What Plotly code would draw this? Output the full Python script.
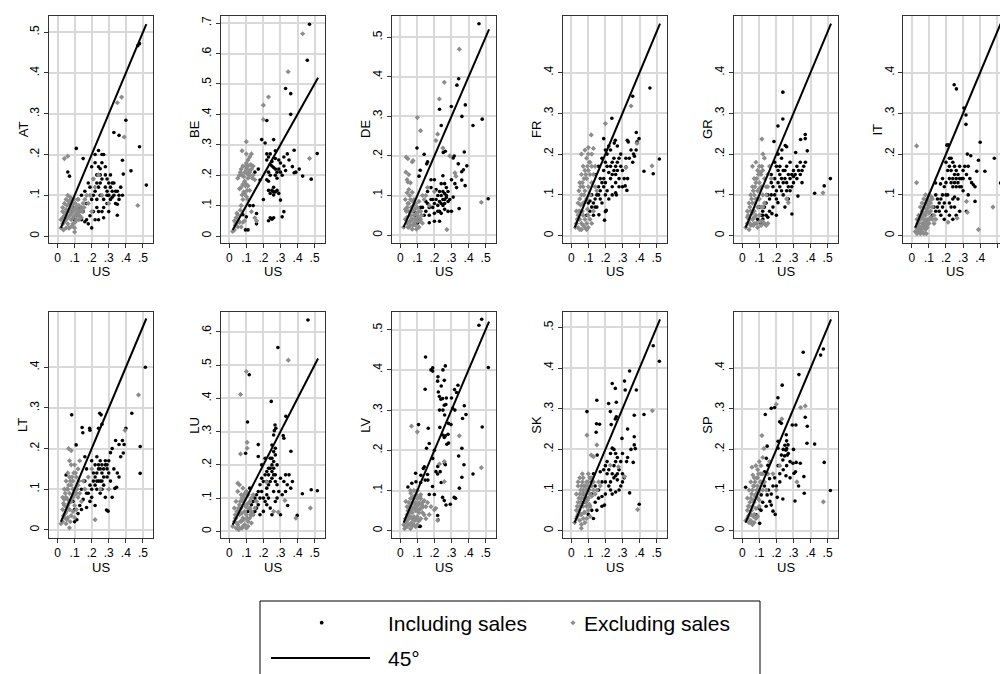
import plotly.graph_objects as go

# ---------------- data ----------------
countries = ["AT", "BE", "DE", "FR", "GR", "IT", "LT", "LU", "LV", "SK", "SP"]
x_tickvals = [0, 0.1, 0.2, 0.3, 0.4, 0.5]
x_ticktext = ["0", ".1", ".2", ".3", ".4", ".5"]
y_top_tick = [0.5, 0.7, 0.5, 0.4, 0.4, 0.4, 0.4, 0.6, 0.5, 0.5, 0.4]
diag_45 = [0.02, 0.52]
x_title = "US"
legend_labels = ["Including sales", "Excluding sales", "45°"]

AT_inc = [(0.47,0.467),(0.48,0.472),(0.40,0.284),(0.33,0.254),(0.36,0.247),(0.48,0.219),(0.11,0.215),(0.24,0.21),(0.43,0.16),(0.38,0.186),(0.52,0.125),(0.385,0.152),(0.35,0.078),(0.35,0.051),(0.06,0.157),(0.07,0.147),(0.15,0.19),(0.20,0.17),(0.22,0.18),(0.23,0.15),(0.25,0.165),(0.26,0.14),(0.28,0.15),(0.30,0.13),(0.31,0.12),(0.32,0.11),(0.33,0.1),(0.34,0.11),(0.36,0.10),(0.37,0.12),(0.24,0.12),(0.22,0.11),(0.21,0.1),(0.25,0.1),(0.27,0.09),(0.29,0.08),(0.31,0.09),(0.23,0.07),(0.26,0.06),(0.24,0.04),(0.27,0.045),(0.30,0.06),(0.19,0.05),(0.17,0.04),(0.15,0.06),(0.13,0.07),(0.12,0.09),(0.16,0.11),(0.18,0.13),(0.20,0.09),(0.27,0.2),(0.26,0.18),(0.28,0.17),(0.29,0.11),(0.20,0.02),(0.16,0.035),(0.11,0.05),(0.14,0.1),(0.09,0.07),(0.32,0.095),(0.35,0.11),(0.29,0.14),(0.23,0.13),(0.25,0.15),(0.21,0.06),(0.10,0.04),(0.08,0.06),
          (0.21,0.14),(0.22,0.2),(0.24,0.17),(0.26,0.2),(0.28,0.12),(0.3,0.1),(0.31,0.15),(0.33,0.13),(0.34,0.08),(0.36,0.09),(0.38,0.1),(0.27,0.07),(0.25,0.13),(0.23,0.09),(0.19,0.12),(0.17,0.08),(0.14,0.04),(0.18,0.03),(0.22,0.04),(0.29,0.1),(0.32,0.13),(0.24,0.06)]
AT_exc = [(0.04,0.19),(0.06,0.196),(0.35,0.327),(0.375,0.341),(0.39,0.243),(0.47,0.075),(0.03,0.03),(0.04,0.05),(0.05,0.04),(0.06,0.06),(0.07,0.05),(0.08,0.07),(0.09,0.06),(0.10,0.05),(0.11,0.07),(0.12,0.06),(0.02,0.02),(0.03,0.06),(0.04,0.08),(0.05,0.09),(0.06,0.1),(0.07,0.08),(0.08,0.04),(0.09,0.03),(0.10,0.02),(0.10,0.01),(0.11,0.04),(0.12,0.05),(0.13,0.06),(0.14,0.07),(0.15,0.08),(0.13,0.05),(0.05,0.02),(0.06,0.03),(0.07,0.02),(0.08,0.09),(0.09,0.08),(0.12,0.09),(0.16,0.09),(0.18,0.08),(0.20,0.06),(0.22,0.12),(0.26,0.1),(0.30,0.08),(0.24,0.15),(0.19,0.1),(0.03,0.07),(0.04,0.035),(0.05,0.065),(0.06,0.045),(0.07,0.065),(0.08,0.055),(0.09,0.045),(0.11,0.055),(0.1,0.065),(0.14,0.045),(0.02,0.04),
          (0.03,0.045),(0.045,0.055),(0.055,0.075),(0.065,0.085),(0.075,0.06),(0.085,0.075),(0.095,0.065),(0.105,0.08),(0.115,0.065),(0.125,0.075),(0.135,0.065),(0.145,0.06),(0.155,0.07),(0.065,0.02),(0.085,0.025),(0.105,0.035),(0.125,0.04),(0.035,0.015),(0.095,0.09),(0.075,0.095),(0.17,0.1),(0.21,0.14)]

BE_inc = [(0.47,0.696),(0.457,0.578),(0.33,0.485),(0.36,0.468),(0.36,0.40),(0.22,0.38),(0.19,0.317),(0.21,0.306),(0.26,0.317),(0.38,0.282),(0.34,0.27),(0.515,0.271),(0.43,0.197),(0.48,0.187),(0.37,0.228),(0.38,0.208),(0.23,0.26),(0.24,0.27),(0.22,0.25),(0.25,0.23),(0.26,0.225),(0.27,0.22),(0.24,0.2),(0.28,0.21),(0.22,0.185),(0.23,0.18),(0.26,0.16),(0.25,0.15),(0.27,0.145),(0.28,0.15),(0.29,0.14),(0.23,0.15),(0.26,0.135),(0.30,0.24),(0.32,0.23),(0.31,0.20),(0.33,0.215),(0.24,0.06),(0.23,0.05),(0.25,0.055),(0.26,0.06),(0.32,0.08),(0.31,0.063),(0.30,0.118),(0.18,0.184),(0.14,0.1),(0.16,0.074),(0.10,0.063),(0.095,0.02),(0.16,0.04),(0.11,0.02),(0.08,0.07),(0.15,0.21),(0.17,0.22),(0.27,0.28),(0.29,0.25),
          (0.25,0.245),(0.27,0.255),(0.24,0.235),(0.23,0.21),(0.29,0.22),(0.3,0.21),(0.28,0.19),(0.27,0.2),(0.26,0.145),(0.24,0.14),(0.22,0.27),(0.32,0.26),(0.35,0.25),(0.39,0.21),(0.41,0.22),(0.2,0.12),(0.12,0.1)]
BE_exc = [(0.43,0.665),(0.345,0.54),(0.23,0.457),(0.2,0.43),(0.2,0.383),(0.1,0.31),(0.075,0.28),(0.47,0.255),(0.06,0.2),(0.07,0.22),(0.08,0.23),(0.09,0.21),(0.1,0.22),(0.11,0.23),(0.12,0.21),(0.1,0.24),(0.11,0.25),(0.12,0.2),(0.13,0.22),(0.14,0.2),(0.09,0.18),(0.08,0.17),(0.1,0.17),(0.11,0.19),(0.12,0.15),(0.09,0.14),(0.1,0.13),(0.11,0.12),(0.08,0.12),(0.07,0.16),(0.06,0.155),(0.12,0.26),(0.1,0.27),(0.05,0.19),(0.15,0.185),(0.07,0.1),(0.05,0.07),(0.04,0.06),(0.03,0.05),(0.04,0.04),(0.05,0.03),(0.06,0.045),(0.02,0.015),(0.03,0.02),(0.07,0.03),(0.09,0.05),(0.15,0.06),(0.13,0.08),(0.16,0.05),
          (0.065,0.21),(0.075,0.2),(0.085,0.195),(0.095,0.23),(0.105,0.205),(0.115,0.215),(0.125,0.235),(0.135,0.19),(0.095,0.165),(0.105,0.15),(0.085,0.145),(0.075,0.135),(0.065,0.085),(0.055,0.05),(0.035,0.035),(0.045,0.075),(0.08,0.045),(0.11,0.165),(0.13,0.27),(0.14,0.23)]

DE_inc = [(0.461,0.534),(0.342,0.395),(0.332,0.379),(0.299,0.325),(0.381,0.329),(0.361,0.3),(0.48,0.293),(0.426,0.277),(0.23,0.318),(0.24,0.277),(0.098,0.22),(0.14,0.204),(0.264,0.212),(0.252,0.209),(0.316,0.2),(0.31,0.195),(0.375,0.21),(0.34,0.18),(0.39,0.175),(0.37,0.165),(0.36,0.16),(0.515,0.092),(0.36,0.139),(0.38,0.125),(0.33,0.12),(0.31,0.096),(0.345,0.067),(0.16,0.185),(0.155,0.18),(0.117,0.164),(0.11,0.149),(0.17,0.031),(0.25,0.15),(0.26,0.13),(0.27,0.12),(0.2,0.14),(0.22,0.1),(0.24,0.1),(0.25,0.09),(0.26,0.08),(0.27,0.095),(0.25,0.11),(0.23,0.085),(0.21,0.09),(0.2,0.08),(0.19,0.07),(0.18,0.09),(0.16,0.08),(0.15,0.06),(0.14,0.05),(0.13,0.07),(0.17,0.05),(0.2,0.055),(0.22,0.06),(0.24,0.055),(0.28,0.06),(0.3,0.06),(0.18,0.12),(0.16,0.11),(0.12,0.07),(0.11,0.04),(0.09,0.05),(0.1,0.03),(0.08,0.06),(0.26,0.065),(0.23,0.06),(0.27,0.1),(0.25,0.075),
          (0.21,0.115),(0.23,0.11),(0.24,0.13),(0.26,0.105),(0.28,0.085),(0.29,0.09),(0.22,0.075),(0.19,0.09),(0.17,0.07),(0.15,0.085),(0.2,0.035),(0.23,0.035),(0.28,0.11),(0.3,0.14),(0.32,0.13),(0.18,0.14),(0.26,0.09),(0.24,0.08)]
DE_exc = [(0.346,0.47),(0.258,0.386),(0.229,0.344),(0.1,0.297),(0.119,0.264),(0.219,0.255),(0.209,0.239),(0.035,0.197),(0.045,0.193),(0.07,0.185),(0.075,0.188),(0.475,0.083),(0.32,0.157),(0.326,0.149),(0.273,0.014),(0.033,0.159),(0.05,0.153),(0.06,0.132),(0.045,0.134),(0.04,0.107),(0.07,0.108),(0.06,0.09),(0.09,0.08),(0.1,0.07),(0.03,0.09),(0.04,0.07),(0.05,0.06),(0.06,0.05),(0.07,0.04),(0.08,0.03),(0.09,0.04),(0.1,0.05),(0.11,0.06),(0.12,0.04),(0.13,0.03),(0.03,0.04),(0.04,0.03),(0.05,0.02),(0.02,0.02),(0.06,0.025),(0.07,0.06),(0.08,0.05),(0.09,0.025),(0.1,0.035),(0.11,0.02),(0.12,0.06),(0.14,0.09),(0.13,0.1),(0.15,0.1),(0.17,0.075),(0.05,0.08),(0.08,0.09),(0.16,0.12),(0.2,0.11),(0.04,0.045),(0.06,0.035),(0.07,0.015),(0.03,0.065),(0.25,0.22),(0.29,0.2),
          (0.035,0.06),(0.045,0.08),(0.055,0.1),(0.065,0.07),(0.075,0.085),(0.085,0.065),(0.095,0.055),(0.105,0.045),(0.115,0.035),(0.125,0.05),(0.085,0.04),(0.065,0.04),(0.055,0.035),(0.045,0.02),(0.075,0.025),(0.095,0.015),(0.05,0.115),(0.04,0.14),(0.08,0.075),(0.11,0.085)]

FR_inc = [(0.461,0.362),(0.36,0.342),(0.238,0.288),(0.381,0.253),(0.397,0.238),(0.385,0.23),(0.19,0.238),(0.258,0.234),(0.252,0.227),(0.328,0.234),(0.334,0.23),(0.516,0.188),(0.48,0.152),(0.426,0.158),(0.365,0.2),(0.37,0.195),(0.32,0.168),(0.3,0.16),(0.2,0.059),(0.205,0.062),(0.195,0.038),(0.162,0.051),(0.26,0.105),(0.264,0.1),(0.316,0.122),(0.326,0.111),(0.29,0.2),(0.28,0.19),(0.27,0.18),(0.26,0.17),(0.25,0.16),(0.24,0.15),(0.23,0.14),(0.22,0.155),(0.21,0.2),(0.2,0.18),(0.19,0.16),(0.18,0.13),(0.17,0.14),(0.16,0.12),(0.15,0.1),(0.14,0.09),(0.13,0.08),(0.12,0.07),(0.11,0.06),(0.14,0.15),(0.16,0.17),(0.18,0.19),(0.2,0.21),(0.22,0.22),(0.24,0.12),(0.26,0.13),(0.28,0.14),(0.3,0.12),(0.22,0.09),(0.2,0.1),(0.18,0.08),(0.15,0.07),(0.12,0.1),(0.1,0.08),(0.23,0.21),(0.27,0.22),(0.32,0.19),(0.35,0.21),(0.38,0.21),(0.09,0.05),(0.17,0.09),(0.25,0.19),(0.19,0.12),(0.13,0.05),(0.11,0.085),
          (0.21,0.17),(0.23,0.17),(0.24,0.18),(0.26,0.15),(0.27,0.16),(0.29,0.17),(0.31,0.14),(0.33,0.14),(0.2,0.13),(0.19,0.14),(0.17,0.11),(0.16,0.1),(0.14,0.07),(0.21,0.11),(0.24,0.1),(0.28,0.12),(0.34,0.19),(0.36,0.18)]
FR_exc = [(0.35,0.318),(0.117,0.247),(0.2,0.275),(0.385,0.226),(0.473,0.171),(0.32,0.167),(0.1,0.216),(0.13,0.214),(0.06,0.2),(0.08,0.21),(0.09,0.19),(0.1,0.2),(0.11,0.18),(0.12,0.2),(0.07,0.17),(0.08,0.16),(0.1,0.16),(0.11,0.15),(0.09,0.14),(0.06,0.15),(0.05,0.13),(0.07,0.12),(0.08,0.11),(0.1,0.12),(0.12,0.13),(0.06,0.1),(0.05,0.09),(0.04,0.08),(0.07,0.08),(0.09,0.09),(0.03,0.06),(0.04,0.05),(0.05,0.04),(0.06,0.03),(0.07,0.05),(0.08,0.04),(0.09,0.03),(0.1,0.02),(0.03,0.03),(0.04,0.02),(0.06,0.015),(0.08,0.02),(0.1,0.05),(0.11,0.04),(0.12,0.03),(0.05,0.06),(0.07,0.025),(0.13,0.06),(0.14,0.12),(0.15,0.11),(0.025,0.02),
          (0.045,0.11),(0.055,0.12),(0.065,0.13),(0.075,0.14),(0.085,0.15),(0.095,0.17),(0.105,0.18),(0.035,0.04),(0.045,0.06),(0.055,0.075),(0.065,0.06),(0.075,0.1),(0.085,0.085),(0.095,0.065),(0.11,0.1),(0.13,0.15),(0.14,0.17),(0.12,0.17),(0.05,0.015),(0.09,0.015)]

GR_inc = [(0.238,0.352),(0.238,0.286),(0.209,0.269),(0.369,0.248),(0.369,0.238),(0.342,0.236),(0.186,0.231),(0.252,0.221),(0.26,0.218),(0.232,0.21),(0.381,0.208),(0.313,0.204),(0.516,0.14),(0.48,0.122),(0.424,0.104),(0.326,0.097),(0.291,0.053),(0.209,0.081),(0.174,0.054),(0.121,0.041),(0.2,0.17),(0.21,0.16),(0.22,0.15),(0.23,0.14),(0.24,0.13),(0.25,0.16),(0.26,0.17),(0.27,0.15),(0.28,0.14),(0.29,0.12),(0.3,0.13),(0.31,0.15),(0.32,0.14),(0.33,0.16),(0.34,0.15),(0.36,0.17),(0.37,0.18),(0.35,0.13),(0.22,0.12),(0.2,0.11),(0.19,0.1),(0.18,0.12),(0.17,0.13),(0.16,0.09),(0.15,0.1),(0.14,0.08),(0.13,0.07),(0.12,0.06),(0.11,0.05),(0.1,0.07),(0.09,0.04),(0.08,0.03),(0.16,0.06),(0.18,0.07),(0.2,0.05),(0.24,0.1),(0.26,0.11),(0.27,0.09),(0.25,0.07),(0.15,0.045),(0.13,0.03),(0.11,0.03),(0.28,0.18),(0.3,0.16),(0.19,0.18),(0.17,0.15),(0.23,0.19),(0.21,0.2),
          (0.19,0.14),(0.21,0.13),(0.22,0.17),(0.24,0.16),(0.25,0.14),(0.26,0.13),(0.27,0.12),(0.28,0.11),(0.3,0.145),(0.32,0.17),(0.34,0.18),(0.35,0.16),(0.2,0.09),(0.17,0.1),(0.14,0.05),(0.12,0.05),(0.23,0.11),(0.29,0.15)]
GR_exc = [(0.115,0.237),(0.121,0.2),(0.473,0.105),(0.27,0.081),(0.26,0.09),(0.06,0.17),(0.08,0.18),(0.09,0.16),(0.1,0.17),(0.11,0.15),(0.12,0.16),(0.13,0.14),(0.07,0.14),(0.08,0.13),(0.1,0.13),(0.11,0.12),(0.12,0.1),(0.09,0.11),(0.06,0.12),(0.05,0.1),(0.07,0.1),(0.04,0.08),(0.06,0.08),(0.08,0.09),(0.1,0.09),(0.03,0.06),(0.05,0.06),(0.07,0.06),(0.09,0.07),(0.04,0.04),(0.06,0.04),(0.08,0.05),(0.1,0.05),(0.03,0.03),(0.05,0.025),(0.07,0.03),(0.09,0.02),(0.11,0.025),(0.12,0.035),(0.13,0.03),(0.14,0.025),(0.15,0.03),(0.02,0.02),(0.04,0.015),(0.14,0.12),(0.15,0.15),(0.16,0.17),(0.13,0.19),(0.14,0.1),(0.17,0.14),(0.12,0.07),(0.06,0.055),(0.03,0.045),
          (0.035,0.05),(0.045,0.07),(0.055,0.09),(0.065,0.11),(0.075,0.12),(0.085,0.14),(0.095,0.15),(0.105,0.155),(0.115,0.17),(0.045,0.03),(0.065,0.025),(0.085,0.03),(0.105,0.035),(0.075,0.08),(0.095,0.09),(0.11,0.07),(0.13,0.08),(0.15,0.12),(0.1,0.115),(0.07,0.045)]

IT_inc = [(0.248,0.37),(0.261,0.36),(0.305,0.313),(0.317,0.296),(0.317,0.273),(0.4,0.229),(0.212,0.223),(0.205,0.222),(0.325,0.2),(0.345,0.196),(0.483,0.19),(0.428,0.158),(0.38,0.158),(0.39,0.185),(0.36,0.125),(0.37,0.12),(0.52,0.129),(0.37,0.084),(0.168,0.127),(0.139,0.129),(0.28,0.06),(0.2,0.18),(0.22,0.17),(0.23,0.19),(0.24,0.18),(0.25,0.17),(0.26,0.16),(0.27,0.15),(0.28,0.17),(0.29,0.14),(0.3,0.16),(0.31,0.17),(0.22,0.14),(0.23,0.13),(0.24,0.14),(0.25,0.13),(0.26,0.12),(0.2,0.13),(0.19,0.12),(0.18,0.1),(0.17,0.09),(0.16,0.08),(0.15,0.07),(0.14,0.06),(0.13,0.07),(0.12,0.05),(0.21,0.1),(0.22,0.08),(0.23,0.07),(0.24,0.09),(0.25,0.095),(0.26,0.05),(0.24,0.04),(0.19,0.04),(0.17,0.05),(0.15,0.09),(0.14,0.1),(0.2,0.06),(0.3,0.11),(0.32,0.06),(0.33,0.1),(0.35,0.13),(0.27,0.09),(0.18,0.14),(0.28,0.12),
          (0.21,0.16),(0.22,0.19),(0.23,0.16),(0.24,0.12),(0.25,0.15),(0.26,0.14),(0.27,0.13),(0.28,0.14),(0.29,0.12),(0.3,0.14),(0.32,0.15),(0.33,0.17),(0.34,0.14),(0.2,0.1),(0.19,0.08),(0.18,0.07),(0.16,0.06),(0.22,0.05),(0.25,0.07)]
IT_exc = [(0.028,0.22),(0.028,0.13),(0.475,0.07),(0.39,0.015),(0.32,0.084),(0.325,0.057),(0.265,0.043),(0.212,0.033),(0.02,0.01),(0.03,0.02),(0.04,0.01),(0.05,0.005),(0.06,0.01),(0.07,0.02),(0.08,0.015),(0.09,0.02),(0.1,0.03),(0.04,0.03),(0.05,0.04),(0.06,0.03),(0.07,0.04),(0.08,0.05),(0.09,0.06),(0.1,0.07),(0.11,0.08),(0.12,0.09),(0.1,0.1),(0.09,0.09),(0.08,0.08),(0.07,0.07),(0.06,0.06),(0.05,0.07),(0.04,0.05),(0.03,0.04),(0.06,0.08),(0.07,0.09),(0.08,0.1),(0.09,0.085),(0.1,0.055),(0.11,0.045),(0.12,0.04),(0.13,0.05),(0.05,0.02),(0.03,0.005),(0.07,0.005),(0.08,0.035),(0.11,0.06),(0.12,0.07),(0.14,0.04),(0.04,0.02),(0.06,0.045),(0.09,0.04),
          (0.035,0.015),(0.045,0.02),(0.055,0.015),(0.065,0.025),(0.075,0.03),(0.085,0.025),(0.095,0.03),(0.045,0.04),(0.055,0.05),(0.065,0.05),(0.075,0.055),(0.085,0.065),(0.095,0.075),(0.105,0.085),(0.115,0.095),(0.035,0.03),(0.025,0.02),(0.105,0.04),(0.085,0.005),(0.13,0.03)]

LT_inc = [(0.514,0.4),(0.083,0.283),(0.247,0.287),(0.255,0.283),(0.435,0.287),(0.144,0.252),(0.148,0.239),(0.188,0.25),(0.19,0.245),(0.24,0.25),(0.26,0.26),(0.38,0.22),(0.39,0.21),(0.4,0.25),(0.109,0.209),(0.484,0.139),(0.484,0.205),(0.385,0.189),(0.37,0.18),(0.336,0.102),(0.346,0.105),(0.287,0.049),(0.296,0.046),(0.113,0.025),(0.1,0.02),(0.05,0.135),(0.16,0.18),(0.17,0.15),(0.2,0.17),(0.22,0.16),(0.23,0.18),(0.24,0.15),(0.25,0.17),(0.26,0.14),(0.27,0.13),(0.28,0.16),(0.29,0.15),(0.3,0.17),(0.31,0.19),(0.32,0.2),(0.33,0.15),(0.35,0.14),(0.36,0.13),(0.21,0.12),(0.22,0.11),(0.23,0.1),(0.24,0.12),(0.25,0.09),(0.26,0.1),(0.27,0.11),(0.28,0.08),(0.2,0.08),(0.19,0.07),(0.18,0.09),(0.15,0.075),(0.13,0.06),(0.12,0.04),(0.14,0.1),(0.16,0.12),(0.1,0.05),(0.09,0.07),(0.32,0.08),(0.22,0.06),(0.25,0.12),(0.29,0.13),(0.17,0.055),
          (0.21,0.14),(0.22,0.13),(0.23,0.14),(0.24,0.16),(0.25,0.15),(0.26,0.16),(0.27,0.15),(0.28,0.17),(0.29,0.16),(0.3,0.14),(0.31,0.12),(0.2,0.1),(0.23,0.12),(0.26,0.12),(0.19,0.11),(0.17,0.09),(0.14,0.05),(0.34,0.22),(0.36,0.21)]
LT_exc = [(0.474,0.332),(0.395,0.245),(0.22,0.025),(0.065,0.2),(0.08,0.195),(0.07,0.17),(0.08,0.16),(0.1,0.16),(0.12,0.15),(0.13,0.17),(0.06,0.14),(0.07,0.13),(0.09,0.12),(0.11,0.13),(0.12,0.11),(0.05,0.12),(0.04,0.1),(0.06,0.1),(0.08,0.11),(0.1,0.1),(0.03,0.08),(0.05,0.08),(0.07,0.09),(0.09,0.08),(0.11,0.09),(0.04,0.06),(0.06,0.06),(0.08,0.07),(0.1,0.06),(0.03,0.05),(0.05,0.045),(0.07,0.05),(0.09,0.045),(0.11,0.05),(0.04,0.03),(0.06,0.03),(0.08,0.035),(0.1,0.03),(0.03,0.02),(0.05,0.015),(0.07,0.005),(0.02,0.015),(0.12,0.08),(0.14,0.07),(0.15,0.12),(0.16,0.1),(0.18,0.13),(0.2,0.15),(0.04,0.075),(0.035,0.065),(0.06,0.075),(0.09,0.1),(0.25,0.1),(0.3,0.1),
          (0.045,0.09),(0.055,0.1),(0.065,0.11),(0.075,0.12),(0.085,0.13),(0.095,0.14),(0.105,0.14),(0.045,0.04),(0.055,0.055),(0.065,0.065),(0.075,0.07),(0.085,0.08),(0.095,0.085),(0.105,0.09),(0.115,0.1),(0.125,0.12),(0.035,0.035),(0.055,0.025),(0.075,0.02),(0.13,0.09)]

LU_inc = [(0.461,0.636),(0.285,0.553),(0.117,0.471),(0.246,0.391),(0.107,0.329),(0.332,0.346),(0.268,0.32),(0.273,0.31),(0.264,0.303),(0.26,0.29),(0.316,0.288),(0.32,0.28),(0.17,0.261),(0.096,0.235),(0.17,0.225),(0.361,0.241),(0.48,0.125),(0.516,0.122),(0.428,0.113),(0.398,0.048),(0.342,0.078),(0.25,0.26),(0.26,0.24),(0.27,0.23),(0.24,0.22),(0.25,0.2),(0.23,0.19),(0.22,0.18),(0.26,0.19),(0.28,0.2),(0.27,0.17),(0.25,0.16),(0.24,0.15),(0.23,0.14),(0.22,0.13),(0.2,0.15),(0.19,0.16),(0.18,0.14),(0.17,0.12),(0.16,0.11),(0.15,0.1),(0.14,0.09),(0.13,0.08),(0.12,0.07),(0.11,0.06),(0.2,0.1),(0.21,0.09),(0.22,0.08),(0.23,0.1),(0.24,0.07),(0.25,0.05),(0.2,0.06),(0.18,0.05),(0.16,0.07),(0.14,0.05),(0.3,0.16),(0.32,0.15),(0.33,0.17),(0.34,0.14),(0.36,0.13),(0.37,0.15),(0.29,0.12),(0.31,0.11),(0.28,0.1),(0.27,0.09),(0.1,0.12),(0.12,0.13),(0.19,0.2),(0.21,0.22),(0.35,0.17),(0.3,0.05),
          (0.21,0.17),(0.22,0.15),(0.23,0.17),(0.24,0.19),(0.25,0.18),(0.26,0.17),(0.27,0.15),(0.28,0.14),(0.26,0.21),(0.25,0.22),(0.27,0.25),(0.19,0.12),(0.18,0.1),(0.17,0.08),(0.15,0.06),(0.13,0.05),(0.22,0.11),(0.26,0.12),(0.33,0.12)]
LU_exc = [(0.1,0.481),(0.066,0.412),(0.346,0.515),(0.066,0.233),(0.105,0.25),(0.105,0.268),(0.475,0.07),(0.39,0.04),(0.287,0.058),(0.326,0.093),(0.219,0.148),(0.26,0.06),(0.06,0.14),(0.05,0.12),(0.08,0.13),(0.1,0.12),(0.07,0.11),(0.09,0.1),(0.11,0.11),(0.12,0.09),(0.04,0.09),(0.06,0.08),(0.08,0.09),(0.1,0.08),(0.03,0.07),(0.05,0.06),(0.07,0.07),(0.09,0.06),(0.11,0.07),(0.13,0.06),(0.04,0.04),(0.06,0.05),(0.08,0.04),(0.1,0.05),(0.12,0.04),(0.14,0.05),(0.03,0.03),(0.05,0.02),(0.07,0.03),(0.09,0.02),(0.11,0.03),(0.02,0.015),(0.04,0.01),(0.06,0.01),(0.08,0.015),(0.1,0.01),(0.13,0.025),(0.15,0.07),(0.16,0.09),(0.14,0.11),(0.05,0.145),(0.035,0.05),
          (0.035,0.04),(0.045,0.06),(0.055,0.07),(0.065,0.09),(0.075,0.1),(0.085,0.11),(0.095,0.115),(0.045,0.025),(0.065,0.03),(0.085,0.035),(0.105,0.04),(0.125,0.05),(0.075,0.055),(0.095,0.075),(0.115,0.085),(0.13,0.1),(0.055,0.005),(0.075,0.01),(0.11,0.015),(0.12,0.07)]

LV_inc = [(0.477,0.526),(0.461,0.511),(0.516,0.406),(0.148,0.432),(0.18,0.4),(0.19,0.405),(0.19,0.397),(0.264,0.41),(0.221,0.383),(0.219,0.372),(0.258,0.374),(0.146,0.352),(0.338,0.362),(0.318,0.351),(0.33,0.344),(0.223,0.345),(0.229,0.334),(0.238,0.327),(0.248,0.329),(0.258,0.312),(0.267,0.314),(0.307,0.304),(0.375,0.311),(0.385,0.289),(0.365,0.279),(0.26,0.288),(0.283,0.267),(0.297,0.264),(0.107,0.264),(0.164,0.255),(0.48,0.258),(0.232,0.257),(0.248,0.238),(0.264,0.236),(0.258,0.232),(0.273,0.215),(0.283,0.218),(0.17,0.217),(0.361,0.205),(0.342,0.186),(0.154,0.205),(0.373,0.164),(0.426,0.141),(0.361,0.133),(0.346,0.106),(0.316,0.083),(0.324,0.081),(0.293,0.066),(0.219,0.141),(0.209,0.147),(0.234,0.147),(0.264,0.164),(0.26,0.168),(0.135,0.155),(0.141,0.159),(0.146,0.126),(0.162,0.126),(0.121,0.138),(0.09,0.143),(0.045,0.109),(0.068,0.118),(0.092,0.122),(0.189,0.11),(0.17,0.09),(0.248,0.083),(0.258,0.075),(0.268,0.064),(0.219,0.038),(0.221,0.027),(0.111,0.011),(0.117,0.011),
          (0.23,0.3),(0.25,0.3),(0.27,0.33),(0.24,0.36),(0.25,0.4),(0.3,0.33),(0.32,0.3),(0.28,0.24),(0.2,0.2),(0.19,0.18),(0.22,0.16),(0.16,0.14),(0.12,0.12),(0.1,0.1),(0.2,0.09),(0.24,0.12)]
LV_exc = [(0.066,0.26),(0.1,0.246),(0.346,0.236),(0.475,0.157),(0.23,0.166),(0.258,0.172),(0.258,0.122),(0.219,0.026),(0.209,0.056),(0.2,0.052),(0.062,0.093),(0.033,0.073),(0.04,0.06),(0.05,0.07),(0.06,0.08),(0.07,0.07),(0.08,0.08),(0.09,0.07),(0.1,0.08),(0.11,0.07),(0.12,0.08),(0.13,0.07),(0.14,0.075),(0.15,0.06),(0.16,0.07),(0.04,0.04),(0.05,0.05),(0.06,0.05),(0.07,0.045),(0.08,0.055),(0.09,0.05),(0.1,0.05),(0.11,0.045),(0.12,0.055),(0.13,0.045),(0.03,0.03),(0.04,0.025),(0.05,0.03),(0.06,0.035),(0.07,0.03),(0.08,0.035),(0.09,0.03),(0.1,0.035),(0.11,0.025),(0.12,0.03),(0.14,0.04),(0.02,0.015),(0.03,0.01),(0.04,0.01),(0.05,0.015),(0.06,0.005),(0.07,0.012),(0.08,0.015),(0.09,0.01),(0.1,0.015),(0.15,0.03),(0.17,0.04),(0.18,0.06),(0.06,0.1),(0.08,0.1),(0.1,0.1),(0.12,0.09),
          (0.035,0.02),(0.045,0.035),(0.055,0.045),(0.065,0.06),(0.075,0.055),(0.085,0.065),(0.095,0.06),(0.105,0.065),(0.115,0.055),(0.125,0.065),(0.135,0.06),(0.045,0.05),(0.055,0.06),(0.065,0.02),(0.085,0.025),(0.105,0.025),(0.075,0.085),(0.095,0.09),(0.115,0.085),(0.025,0.005)]

SK_inc = [(0.48,0.455),(0.516,0.417),(0.342,0.393),(0.24,0.362),(0.312,0.368),(0.258,0.35),(0.316,0.346),(0.381,0.346),(0.15,0.321),(0.219,0.313),(0.264,0.316),(0.092,0.293),(0.229,0.293),(0.426,0.286),(0.369,0.284),(0.148,0.263),(0.166,0.262),(0.146,0.242),(0.234,0.261),(0.264,0.28),(0.258,0.275),(0.297,0.227),(0.369,0.231),(0.369,0.211),(0.375,0.202),(0.24,0.203),(0.25,0.2),(0.26,0.19),(0.27,0.18),(0.26,0.17),(0.25,0.16),(0.23,0.19),(0.324,0.17),(0.363,0.168),(0.152,0.186),(0.342,0.093),(0.398,0.065),(0.18,0.084),(0.195,0.063),(0.17,0.145),(0.26,0.135),(0.27,0.125),(0.29,0.11),(0.3,0.14),(0.31,0.13),(0.2,0.12),(0.22,0.11),(0.23,0.1),(0.24,0.09),(0.26,0.095),(0.28,0.1),(0.13,0.14),(0.12,0.12),(0.11,0.13),(0.1,0.1),(0.09,0.08),(0.08,0.07),(0.07,0.09),(0.14,0.07),(0.15,0.05),(0.12,0.05),(0.1,0.04),(0.06,0.07),(0.16,0.1),(0.18,0.12),(0.19,0.15),(0.21,0.14),(0.3,0.12),(0.33,0.18),(0.13,0.03),
          (0.2,0.16),(0.21,0.17),(0.22,0.15),(0.24,0.14),(0.25,0.13),(0.27,0.14),(0.28,0.15),(0.29,0.17),(0.3,0.19),(0.23,0.12),(0.2,0.09),(0.18,0.06),(0.16,0.08),(0.14,0.11),(0.12,0.09),(0.11,0.06),(0.33,0.25),(0.35,0.2)]
SK_exc = [(0.475,0.295),(0.092,0.235),(0.15,0.211),(0.117,0.186),(0.13,0.182),(0.389,0.052),(0.229,0.161),(0.277,0.157),(0.312,0.133),(0.059,0.006),(0.05,0.13),(0.07,0.13),(0.09,0.12),(0.11,0.13),(0.04,0.11),(0.06,0.11),(0.08,0.11),(0.1,0.12),(0.12,0.11),(0.13,0.1),(0.03,0.09),(0.05,0.09),(0.07,0.1),(0.09,0.1),(0.11,0.09),(0.04,0.07),(0.06,0.08),(0.08,0.09),(0.1,0.08),(0.12,0.085),(0.03,0.05),(0.05,0.06),(0.07,0.06),(0.09,0.06),(0.11,0.06),(0.04,0.04),(0.06,0.04),(0.08,0.045),(0.1,0.05),(0.02,0.02),(0.03,0.03),(0.05,0.025),(0.07,0.03),(0.09,0.03),(0.11,0.035),(0.06,0.015),(0.08,0.02),(0.14,0.09),(0.15,0.1),(0.16,0.12),(0.17,0.11),(0.04,0.12),(0.065,0.14),(0.1,0.14),
          (0.035,0.06),(0.045,0.08),(0.055,0.1),(0.065,0.12),(0.075,0.11),(0.085,0.1),(0.095,0.11),(0.105,0.1),(0.045,0.05),(0.055,0.07),(0.065,0.09),(0.075,0.08),(0.085,0.07),(0.095,0.075),(0.105,0.065),(0.035,0.035),(0.055,0.04),(0.075,0.045),(0.12,0.13),(0.13,0.12)]

SP_inc = [(0.475,0.447),(0.459,0.432),(0.357,0.439),(0.332,0.384),(0.234,0.358),(0.209,0.327),(0.17,0.301),(0.19,0.303),(0.135,0.286),(0.219,0.268),(0.229,0.264),(0.369,0.279),(0.381,0.257),(0.293,0.26),(0.314,0.26),(0.379,0.215),(0.424,0.213),(0.146,0.208),(0.258,0.236),(0.26,0.221),(0.268,0.211),(0.26,0.202),(0.256,0.198),(0.264,0.186),(0.248,0.184),(0.209,0.203),(0.229,0.186),(0.238,0.174),(0.48,0.168),(0.297,0.166),(0.316,0.168),(0.34,0.166),(0.312,0.145),(0.303,0.141),(0.361,0.133),(0.256,0.135),(0.516,0.099),(0.363,0.092),(0.309,0.073),(0.238,0.078),(0.205,0.082),(0.18,0.048),(0.193,0.04),(0.02,0.107),(0.141,0.178),(0.15,0.161),(0.131,0.145),(0.16,0.128),(0.154,0.1),(0.111,0.088),(0.098,0.055),(0.082,0.039),(0.102,0.018),(0.146,0.088),(0.162,0.072),(0.17,0.063),(0.2,0.11),(0.22,0.12),(0.13,0.11),(0.12,0.07),
          (0.24,0.2),(0.25,0.21),(0.27,0.19),(0.28,0.17),(0.26,0.16),(0.24,0.15),(0.22,0.14),(0.21,0.16),(0.19,0.13),(0.18,0.11),(0.17,0.09),(0.14,0.06),(0.11,0.05),(0.28,0.13),(0.33,0.11),(0.3,0.2),(0.21,0.22)]
SP_exc = [(0.115,0.234),(0.127,0.202),(0.199,0.311),(0.232,0.275),(0.342,0.303),(0.369,0.307),(0.32,0.12),(0.475,0.071),(0.057,0.156),(0.062,0.137),(0.08,0.16),(0.1,0.17),(0.09,0.15),(0.11,0.16),(0.07,0.13),(0.09,0.13),(0.11,0.14),(0.05,0.12),(0.07,0.11),(0.09,0.11),(0.11,0.12),(0.04,0.1),(0.06,0.1),(0.08,0.09),(0.1,0.1),(0.12,0.1),(0.03,0.08),(0.05,0.08),(0.07,0.07),(0.09,0.08),(0.04,0.06),(0.06,0.06),(0.08,0.055),(0.1,0.06),(0.03,0.05),(0.05,0.04),(0.07,0.04),(0.09,0.035),(0.03,0.03),(0.05,0.025),(0.07,0.02),(0.04,0.02),(0.06,0.015),(0.02,0.025),(0.13,0.12),(0.14,0.1),(0.15,0.14),(0.16,0.17),(0.12,0.18),(0.2,0.1),(0.18,0.14),(0.22,0.16),
          (0.035,0.06),(0.045,0.07),(0.055,0.09),(0.065,0.11),(0.075,0.12),(0.085,0.13),(0.095,0.14),(0.045,0.04),(0.055,0.05),(0.065,0.075),(0.075,0.085),(0.085,0.1),(0.095,0.095),(0.105,0.12),(0.035,0.035),(0.055,0.02),(0.065,0.035),(0.08,0.03),(0.1,0.075),(0.12,0.14)]

inc_sets = [AT_inc, BE_inc, DE_inc, FR_inc, GR_inc, IT_inc, LT_inc, LU_inc, LV_inc, SK_inc, SP_inc]
exc_sets = [AT_exc, BE_exc, DE_exc, FR_exc, GR_exc, IT_exc, LT_exc, LU_exc, LV_exc, SK_exc, SP_exc]

# ---------------- layout / style ----------------
W, H = 1000, 674
FONT = "Liberation Sans, Arial, Helvetica, sans-serif"
col_left = [49, 220.7, 391.7, 562.7, 733.7, 903.3]
row_top = [15.5, 312]
row_bot = [243, 538]
panel_w = 104
x_range = [-0.05, 0.559]
y_ranges = [[-0.017, 0.541], [-0.023, 0.725], [-0.02, 0.555], [-0.018, 0.54], [-0.018, 0.54],
            [-0.018, 0.54], [-0.02, 0.536], [-0.02, 0.66], [-0.018, 0.544], [-0.018, 0.538],
            [-0.018, 0.538]]
GRID = "#d9d9d9"
FRAME = "#333333"
INC_COLOR = "#000000"
EXC_COLOR = "#8c8c8c"


def fmt(v):
    return "0" if abs(v) < 1e-9 else ("%.1f" % v)[1:]


fig = go.Figure()
layout = dict(width=W, height=H, margin=dict(l=0, r=0, t=0, b=0),
              paper_bgcolor="white", plot_bgcolor="white", showlegend=False,
              font=dict(family=FONT, color="black"))
annotations = []
shapes = []
ppu = panel_w / (x_range[1] - x_range[0])

for i, c in enumerate(countries):
    row, col = divmod(i, 6)
    n = "" if i == 0 else str(i + 1)
    left = col_left[col]
    right = left + panel_w
    xr = list(x_range)
    clipped = right > W
    if clipped:
        xr[1] = x_range[0] + (W - left) / ppu
        right = W
    top, bot = row_top[row], row_bot[row]
    yt = [round(k * 0.1, 1) for k in range(int(round(y_top_tick[i] * 10)) + 1)]

    inc = inc_sets[i]
    exc = exc_sets[i]
    fig.add_trace(go.Scatter(x=[p[0] for p in inc], y=[p[1] for p in inc], mode="markers",
                             name=legend_labels[0], xaxis="x" + n, yaxis="y" + n,
                             marker=dict(color=INC_COLOR, size=3.6, symbol="circle", line=dict(width=0))))
    fig.add_trace(go.Scatter(x=[p[0] for p in exc], y=[p[1] for p in exc], mode="markers",
                             name=legend_labels[1], xaxis="x" + n, yaxis="y" + n,
                             marker=dict(color=EXC_COLOR, size=4.0, symbol="diamond", line=dict(width=0))))
    fig.add_trace(go.Scatter(x=diag_45, y=diag_45, mode="lines", name=legend_labels[2],
                             xaxis="x" + n, yaxis="y" + n, line=dict(color="black", width=2)))

    layout["xaxis" + n] = dict(domain=[left / W, right / W], range=xr, anchor="y" + n,
                               tickvals=x_tickvals, ticktext=x_ticktext, ticks="outside", ticklen=4,
                               tickcolor=FRAME, tickfont=dict(size=12, family=FONT, color="black"),
                               showgrid=True, gridcolor=GRID, gridwidth=1.5, zeroline=False,
                               showline=True, linecolor=FRAME, linewidth=1, mirror=True,
                               fixedrange=True)
    layout["yaxis" + n] = dict(domain=[1 - bot / H, 1 - top / H], range=y_ranges[i], anchor="x" + n,
                               tickvals=yt, ticktext=[fmt(v) for v in yt], ticks="outside", ticklen=4,
                               tickangle=-90, tickcolor=FRAME,
                               tickfont=dict(size=12, family=FONT, color="black"),
                               showgrid=True, gridcolor=GRID, gridwidth=1.5, zeroline=False,
                               showline=True, linecolor=FRAME, linewidth=1,
                               mirror=(not clipped), fixedrange=True)
    # axis titles
    annotations.append(dict(text=c, x=(left - 26) / W, y=1 - (top + bot) / 2 / H, xref="paper",
                            yref="paper", showarrow=False, textangle=-90, xanchor="center",
                            yanchor="middle", font=dict(size=13, family=FONT, color="black")))
    annotations.append(dict(text=x_title, x=(left + panel_w / 2) / W, y=1 - (bot + 29) / H,
                            xref="paper", yref="paper", showarrow=False, xanchor="center",
                            yanchor="middle", font=dict(size=13, family=FONT, color="black")))


# legend box (drawn manually to match the Stata layout)
def px(x):
    return x / W


def py(y):
    return 1 - y / H


shapes.append(dict(type="rect", xref="paper", yref="paper", x0=px(260), x1=px(760), y0=py(710),
                   y1=py(601), line=dict(color="black", width=1), fillcolor="white", layer="below"))
shapes.append(dict(type="circle", xref="paper", yref="paper", x0=px(319.8), x1=px(323.6),
                   y0=py(624.6), y1=py(620.8), fillcolor=INC_COLOR, line=dict(width=0)))
shapes.append(dict(type="path", xref="paper", yref="paper",
                   path="M {a},{b} L {c},{d} L {a},{e} L {f},{d} Z".format(
                       a=px(573), b=py(620.3), c=px(575.5), d=py(622.8), e=py(625.3), f=px(570.5)),
                   fillcolor=EXC_COLOR, line=dict(width=0)))
shapes.append(dict(type="line", xref="paper", yref="paper", x0=px(271), x1=px(370), y0=py(658),
                   y1=py(658), line=dict(color="black", width=2)))
for txt, lx, ly in [(legend_labels[0], 387, 623), (legend_labels[1], 583, 623), (legend_labels[2], 387, 658)]:
    annotations.append(dict(text=txt, x=px(lx), y=py(ly), xref="paper", yref="paper",
                            showarrow=False, xanchor="left", yanchor="middle", borderpad=0,
                            font=dict(size=21, family=FONT, color="black")))

layout["annotations"] = annotations
layout["shapes"] = shapes
fig.update_layout(**layout)
fig.write_html("out.html", config={"displayModeBar": False},
               post_script="document.body.style.margin='0';document.body.style.overflow='hidden';")
